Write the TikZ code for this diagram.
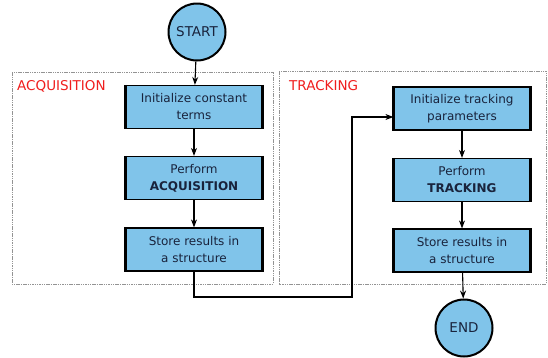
\documentclass[tikz,border=0pt]{standalone}
\usepackage{fontspec}
\setmainfont{DejaVu Sans}
\usetikzlibrary{arrows.meta}
\definecolor{boxblue}{RGB}{128,196,234}
\definecolor{txt}{RGB}{25,35,60}
\definecolor{lblred}{RGB}{240,30,30}
\begin{document}
\begin{tikzpicture}[x=1pt,y=-1pt,
  stepbox/.style={draw=black,line width=1.2pt,fill=boxblue,minimum width=136pt,minimum height=43pt,
    align=center,font=\fontsize{12}{17}\selectfont,text=txt,inner sep=0pt},
  term/.style={circle,draw=black,line width=2pt,fill=boxblue,minimum size=57pt,inner sep=0pt,
    font=\fontsize{13.5}{15}\selectfont,text=txt},
  grp/.style={draw=gray!85,line width=0.8pt,dash pattern=on 1.5pt off 0.8pt},
  lbl/.style={text=lblred,font=\fontsize{13.5}{15}\selectfont,anchor=west,inner sep=0pt},
  conn/.style={draw=black,line width=1.1pt,-{Stealth[length=8pt,width=6pt]}},
]
\useasboundingbox (0,0) rectangle (548,357);
\fill[white] (0,0) rectangle (548,357);
% groups
\draw[grp] (12,72) rectangle (273,284);
\draw[grp] (279,71) rectangle (546,284);
\node[lbl] (la) at (17,86) {ACQUISITION};
\node[lbl] (lt) at (289,86) {TRACKING};
% nodes
\node[term] (start) at (197,32) {START};
\node[stepbox] (a1) at (194,107) {Initialize constant\\terms};
\node[stepbox] (a2) at (194,178) {Perform\\\textbf{ACQUISITION}};
\node[stepbox] (a3) at (194,249.5) {Store results in\\a structure};
\node[stepbox] (t1) at (462,108.5) {Initialize tracking\\parameters};
\node[stepbox] (t2) at (462,180) {Perform\\\textbf{TRACKING}};
\node[stepbox] (t3) at (462,250.5) {Store results in\\a structure};
\node[term] (end) at (464,328) {END};
% thick sides
\foreach \n in {a1,a2,a3,t1,t2,t3}{
  \draw[line width=3pt] (\n.north west) -- (\n.south west);
  \draw[line width=3.5pt] (\n.north east) -- (\n.south east);
}
% connectors
\draw[conn] (start) -- (a1);
\draw[conn] (a1) -- (a2);
\draw[conn] (a2) -- (a3);
\draw[conn] (t1) -- (t2);
\draw[conn] (t2) -- (t3);
\draw[conn] (t3) -- (end);
\coordinate (c1) at (a3.south |- 0,297);
\coordinate (c2) at (352,297);
\coordinate (c3) at (352,117);
\draw[conn] (a3.south) -- (c1) -- (c2) -- (c3) -- (c3 -| t1.west);
\end{tikzpicture}
\end{document}
